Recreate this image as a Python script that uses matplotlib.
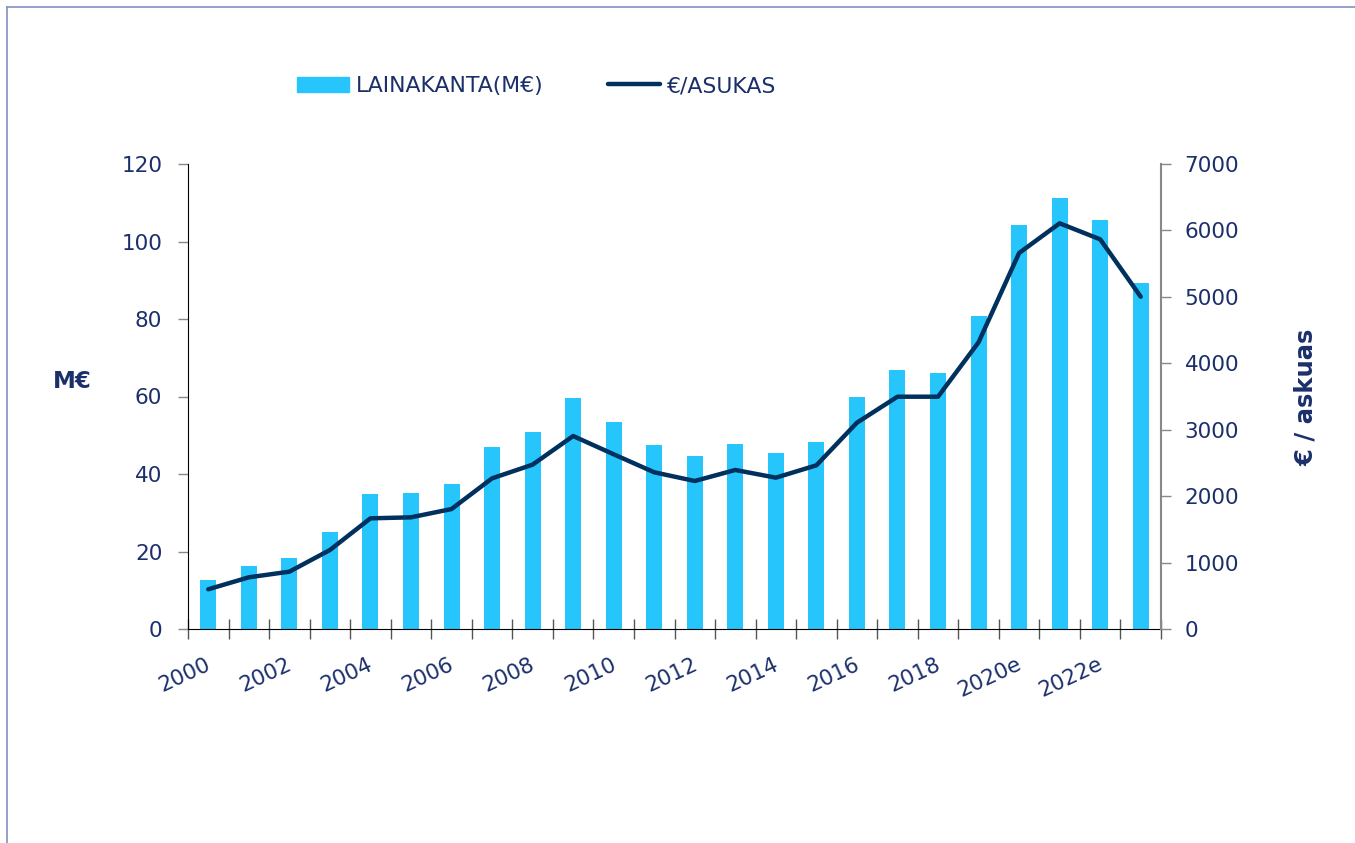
import matplotlib
matplotlib.use("Agg")
import matplotlib.pyplot as plt
from matplotlib.lines import Line2D
from matplotlib.transforms import ScaledTranslation
import numpy as np

years = ["2000", "2001", "2002", "2003", "2004", "2005", "2006", "2007", "2008", "2009",
         "2010", "2011", "2012", "2013", "2014", "2015", "2016", "2017", "2018", "2019",
         "2020e", "2021e", "2022e", "2023e"]
lainakanta = [12.6, 16.3, 18.2, 25.0, 34.8, 35.0, 37.4, 46.9, 50.8, 59.5,
              53.4, 47.6, 44.6, 47.7, 45.4, 48.2, 59.8, 66.8, 66.1, 80.7,
              104.3, 111.2, 105.5, 89.4]
per_asukas = [598, 778, 863, 1189, 1666, 1681, 1806, 2268, 2474, 2905,
              2630, 2359, 2228, 2394, 2278, 2464, 3106, 3497, 3497, 4316,
              5660, 6107, 5866, 5002]

BAR_C = "#26C6FC"
LINE_C = "#00305E"
TXT_C = "#1B2F6B"

plt.rcParams["font.family"] = ["DejaVu Sans"]

fig = plt.figure(figsize=(13.55, 8.43), dpi=100)
W, H = 1355, 843
ax = fig.add_axes([188 / W, 1 - 629 / H, (1161 - 188) / W, (629 - 164) / H])
ax2 = ax.twinx()

x = np.arange(len(years))
ax.bar(x, lainakanta, width=0.395, color=BAR_C, zorder=2)
ax2.plot(x, per_asukas, color=LINE_C, lw=3.2, solid_capstyle="round",
         solid_joinstyle="round", zorder=3)

ax.set_xlim(-0.5, len(years) - 0.5)
ax.set_ylim(0, 120)
ax2.set_ylim(0, 7000)
ax.set_yticks(np.arange(0, 121, 20))
ax2.set_yticks(np.arange(0, 7001, 1000))

# x ticks: labels every other category, tick marks at category boundaries
ax.set_xticks(x[::2])
ax.set_xticklabels(years[::2], rotation=25, ha="right", va="top",
                   rotation_mode="anchor", fontsize=15.5, color=TXT_C)
ax.tick_params(axis="x", which="major", length=0, pad=18)
shift = ScaledTranslation(-3 / 100, 0, fig.dpi_scale_trans)
for lbl in ax.get_xticklabels():
    lbl.set_transform(lbl.get_transform() + shift)
ax.set_xticks(np.arange(-0.5, len(years), 1.0), minor=True)
ax.tick_params(axis="x", which="minor", direction="inout", length=14,
               width=1, color="#555555")

ax.tick_params(axis="y", which="major", direction="out", length=7, width=1,
               color="#888888", labelsize=15.5, labelcolor=TXT_C, pad=11.5)
ax2.tick_params(axis="y", which="major", direction="out", length=7, width=1,
                color="#888888", labelsize=15.5, labelcolor=TXT_C, pad=10)

for s in ["top", "right"]:
    ax.spines[s].set_visible(False)
for s in ["top", "left", "bottom"]:
    ax2.spines[s].set_visible(False)
ax.spines["left"].set_color("#000000")
ax.spines["bottom"].set_color("#000000")
ax2.spines["right"].set_color("#888888")
ax2.spines["right"].set_linewidth(1.5)

# axis titles
fig.text(72 / W, 1 - 382 / H, "M€", fontsize=16.5, fontweight="bold",
         color=TXT_C, ha="center", va="center")
fig.text(1306 / W, 1 - 397 / H, "€ / askuas", fontsize=17.5, fontweight="bold",
         color=TXT_C, ha="center", va="center", rotation=90)

# legend
handles = [plt.Rectangle((0, 0), 1, 1, color=BAR_C),
           Line2D([], [], color=LINE_C, lw=3.2, solid_capstyle="round")]
fig.legend(handles, ["LAINAKANTA(M€)", "€/ASUKAS"], loc="center left",
           bbox_to_anchor=(297 / W, 1 - 86 / H), ncol=2, frameon=False,
           fontsize=15.8, handlelength=2.37, handletextpad=0.3, columnspacing=2.95,
           borderpad=0, borderaxespad=0, labelcolor=TXT_C)

# figure border (top and left)
fig.add_artist(Line2D([6.5 / W, 1], [1 - 6.5 / H, 1 - 6.5 / H],
                      transform=fig.transFigure, color="#8090C0", lw=1.2))
fig.add_artist(Line2D([6.5 / W, 6.5 / W], [0, 1 - 6.5 / H],
                      transform=fig.transFigure, color="#8090C0", lw=1.2))

fig.savefig("out.png", dpi=100, facecolor="white")
